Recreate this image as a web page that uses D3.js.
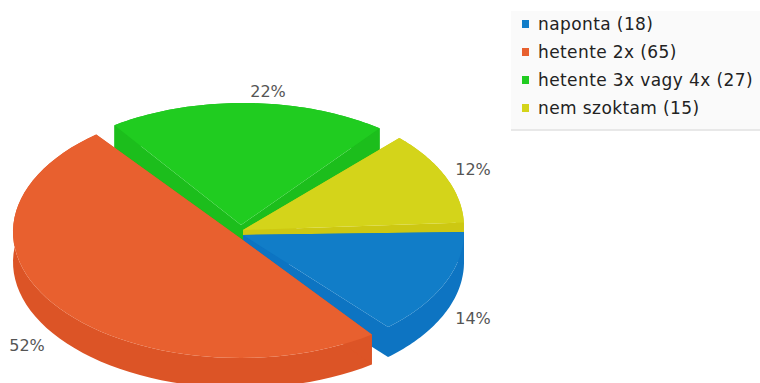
<!DOCTYPE html>
<html>
<head>
<meta charset="utf-8">
<script src="https://cdn.jsdelivr.net/npm/d3@7/dist/d3.min.js"></script>
<style>
html,body{margin:0;padding:0;background:#fff;overflow:hidden}
svg{display:block}
text{font-family:"DejaVu Sans",sans-serif}
</style>
</head>
<body>
<svg id="chart" width="760" height="383"></svg>
<script>
const categories = ["naponta", "hetente 2x", "hetente 3x vagy 4x", "nem szoktam"];
const answers = [18, 65, 27, 15];
const faceColors = ["#117dc8", "#e8602f", "#20cc20", "#d4d41a"];
const wallColors = ["#0d74c2", "#dc5426", "#1cbe1c", "#cdc812"];

const svg = d3.select("#chart");
const toDeg = r => r * 180 / Math.PI;
const toRad = d => d * Math.PI / 180;

// Pie angles measured clockwise from 3 o'clock
const pie = d3.pie().sort(null).startAngle(0).endAngle(2 * Math.PI);
const slices = pie(answers);
const boundaries = [0, ...slices.map(s => toDeg(s.endAngle))];

// Foreshortening of the tilted disc: the far half reads slightly narrower
const tilt = d3.scaleLinear().domain(boundaries).range([0, 51.8, 233, 311.5, 360]);

const rx = 221, ry = 126, depth = 30;
const center = { x: 243, y: 232 };

// Per-slice explosion: arc centre shift, wedge tip shift, angular gap at each edge
const explode = [
  { dx: 0,  dy: 0,  tipX: 0,  tipY: 3,  padA: 0,   padB: 2.8, grow: 0 },
  { dx: -3, dy: 0,  tipX: -3, tipY: 6,  padA: 2.7, padB: 2.3, grow: 6 },
  { dx: 0,  dy: -3, tipX: -2, tipY: -7, padA: 2.5, padB: 4.5, grow: 6 },
  { dx: 0,  dy: -5, tipX: 0,  tipY: -2, padA: 3.5, padB: 2,   grow: 0 }
];

const line = d3.line();
const drawOrder = [2, 3, 0, 1];

drawOrder.forEach(i => {
  const s = slices[i], e = explode[i];
  const a0 = tilt(toDeg(s.startAngle)) + e.padA;
  const a1 = tilt(toDeg(s.endAngle)) - e.padB;
  const cx = center.x + e.dx, cy = center.y + e.dy;
  const tip = [center.x + e.tipX, center.y + e.tipY];
  const R = rx + e.grow;
  const arc = d3.range(0, 61).map(k => {
    const t = toRad(a0 + (a1 - a0) * k / 60);
    return [cx + R * Math.cos(t), cy + ry * Math.sin(t)];
  });
  const down = p => [p[0], p[1] + depth];
  const g = svg.append("g");
  // Extruded wall: swept rim, then the two cut faces
  g.append("path").attr("fill", wallColors[i])
    .attr("d", line([...arc, ...arc.map(down).reverse()]) + "Z");
  [arc[0], arc[60]].forEach(p => {
    g.append("path").attr("fill", wallColors[i])
      .attr("d", line([tip, p, down(p), down(tip)]) + "Z");
  });
  g.append("path").attr("fill", faceColors[i])
    .attr("d", line([tip, ...arc]) + "Z");
});

// Percentage labels
const pct = d3.format(".0%");
const total = d3.sum(answers);
const labelAnchors = [[473, 324], [27, 351], [268, 97], [473, 175]];
svg.append("g").selectAll("text").data(answers).join("text")
  .attr("x", (d, i) => labelAnchors[i][0])
  .attr("y", (d, i) => labelAnchors[i][1])
  .attr("text-anchor", "middle")
  .attr("font-size", 16)
  .attr("fill", "#555")
  .text(d => pct(d / total));

// Legend panel
const legend = svg.append("g");
legend.append("rect").attr("x", 511).attr("y", 11).attr("width", 249).attr("height", 119).attr("fill", "#fafafa");
legend.append("rect").attr("x", 511).attr("y", 129).attr("width", 249).attr("height", 2).attr("fill", "#e8e8e8");
const rowY = d3.scalePoint().domain(categories).range([24, 108]);
const rows = legend.selectAll("g.row").data(categories).join("g").attr("class", "row")
  .attr("transform", d => `translate(0,${rowY(d)})`);
rows.append("rect").attr("x", 522).attr("y", -4).attr("width", 7).attr("height", 8)
  .attr("fill", (d, i) => faceColors[i]);
rows.append("text").attr("x", 538).attr("y", 6)
  .attr("font-size", 17).attr("letter-spacing", 0.4).attr("fill", "#222")
  .text((d, i) => `${d} (${answers[i]})`);
</script>
</body>
</html>
